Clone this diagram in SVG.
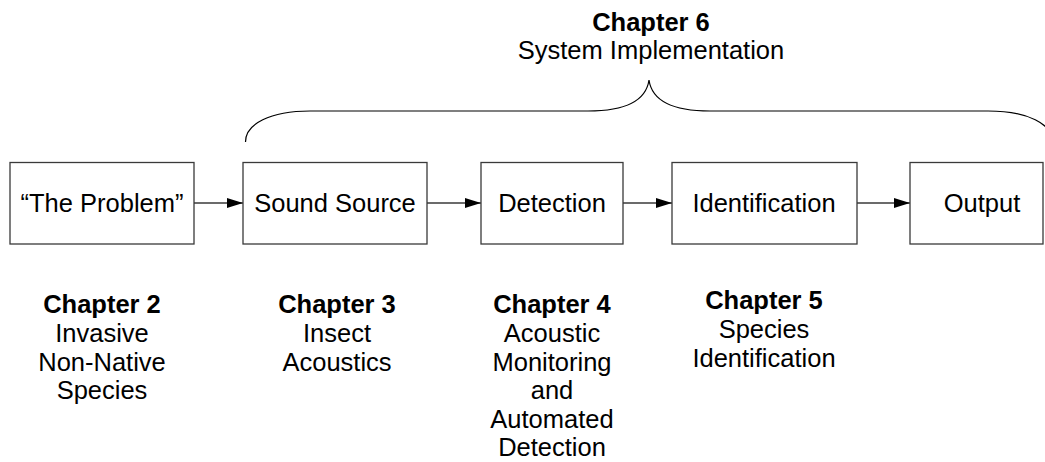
<svg xmlns="http://www.w3.org/2000/svg" width="1045" height="462" viewBox="0 0 1045 462">
  <style>
    .box { fill: #ffffff; stroke: #3a3a3a; stroke-width: 1.3; }
    .lbl { font-family: "Liberation Sans", Arial, sans-serif; font-size: 25.5px; fill: #000; text-anchor: middle; }
    .ch { font-family: "Liberation Sans", Arial, sans-serif; font-size: 25.5px; fill: #000; text-anchor: middle; }
    .ch .b { font-weight: bold; }
    .edge { fill: none; stroke: #3a3a3a; stroke-width: 1.3; }
    .brace { fill: none; stroke: #000; stroke-width: 1.2; }
  </style>
  <defs>
    <marker id="arrow" markerWidth="16" markerHeight="10" refX="16" refY="5" orient="auto" markerUnits="userSpaceOnUse">
      <path d="M0,0 L16,5 L0,10 Z" fill="#000"/>
    </marker>
  </defs>
  <rect width="1045" height="462" fill="#ffffff"/>

  <!-- overall span brace and its heading -->
  <g id="system-implementation">
    <path class="brace" d="M245.5,142 C245.5,124 270,111 310,111 L588,111 C625,111 646,101 649,80 C652,101 673,111 710,111 L988,111 C1028,111 1052.5,124 1052.5,142"/>
    <text class="ch" x="651" y="31"><tspan class="b">Chapter 6</tspan></text>
    <text class="ch" x="651" y="59">System Implementation</text>
  </g>

  <!-- connectors -->
  <g id="connectors">
    <line class="edge" x1="194" y1="203" x2="243" y2="203" marker-end="url(#arrow)"/>
    <line class="edge" x1="427" y1="203" x2="481" y2="203" marker-end="url(#arrow)"/>
    <line class="edge" x1="623" y1="203" x2="672" y2="203" marker-end="url(#arrow)"/>
    <line class="edge" x1="857" y1="203" x2="910" y2="203" marker-end="url(#arrow)"/>
  </g>

  <!-- pipeline stages -->
  <g id="problem">
    <rect class="box" x="10" y="162.5" width="184" height="81.5"/>
    <text class="lbl" x="102" y="212">“The Problem”</text>
  </g>
  <g id="sound-source">
    <rect class="box" x="243" y="162.5" width="184" height="81.5"/>
    <text class="lbl" x="335" y="212">Sound Source</text>
  </g>
  <g id="detection">
    <rect class="box" x="481" y="162.5" width="142" height="81.5"/>
    <text class="lbl" x="552" y="212">Detection</text>
  </g>
  <g id="identification">
    <rect class="box" x="672" y="162.5" width="185" height="81.5"/>
    <text class="lbl" x="764" y="212">Identification</text>
  </g>
  <g id="output">
    <rect class="box" x="910" y="162.5" width="133" height="81.5"/>
    <text class="lbl" x="982" y="212">Output</text>
  </g>

  <!-- chapter notes under the stages -->
  <g id="chapter-2">
    <text class="ch" x="102" y="313"><tspan class="b">Chapter 2</tspan></text>
    <text class="ch" x="102" y="342">Invasive</text>
    <text class="ch" x="102" y="370.5">Non-Native</text>
    <text class="ch" x="102" y="399">Species</text>
  </g>
  <g id="chapter-3">
    <text class="ch" x="337" y="313"><tspan class="b">Chapter 3</tspan></text>
    <text class="ch" x="337" y="342">Insect</text>
    <text class="ch" x="337" y="370.5">Acoustics</text>
  </g>
  <g id="chapter-4">
    <text class="ch" x="552" y="313"><tspan class="b">Chapter 4</tspan></text>
    <text class="ch" x="552" y="342">Acoustic</text>
    <text class="ch" x="552" y="370.5">Monitoring</text>
    <text class="ch" x="552" y="399">and</text>
    <text class="ch" x="552" y="427.5">Automated</text>
    <text class="ch" x="552" y="456">Detection</text>
  </g>
  <g id="chapter-5">
    <text class="ch" x="764" y="309"><tspan class="b">Chapter 5</tspan></text>
    <text class="ch" x="764" y="338">Species</text>
    <text class="ch" x="764" y="366.5">Identification</text>
  </g>
</svg>
